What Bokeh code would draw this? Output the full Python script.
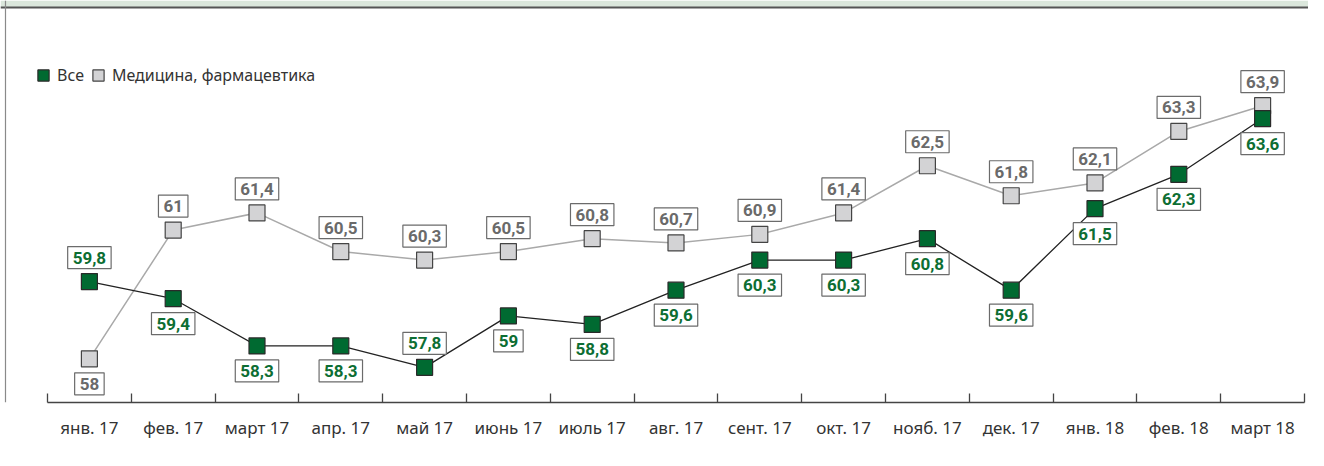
from bokeh.plotting import figure
from bokeh.models import (Range1d, FixedTicker, ColumnDataSource, Legend, LegendItem,
                          Span, BoxAnnotation)
from bokeh.embed import file_html
from bokeh.resources import INLINE
from bokeh.core.properties import value

# ---------------- data ----------------
months = ["янв. 17", "фев. 17", "март 17", "апр. 17", "май 17", "июнь 17", "июль 17",
          "авг. 17", "сент. 17", "окт. 17", "нояб. 17", "дек. 17", "янв. 18", "фев. 18",
          "март 18"]
all_vals = [59.8, 59.4, 58.3, 58.3, 57.8, 59.0, 58.8, 59.6, 60.3, 60.3, 60.8, 59.6,
            61.5, 62.3, 63.6]
med_vals = [58.0, 61.0, 61.4, 60.5, 60.3, 60.5, 60.8, 60.7, 60.9, 61.4, 62.5, 61.8,
            62.1, 63.3, 63.9]
series_names = ["Все", "Медицина, фармацевтика"]

# label placement (True = above the marker)
all_above = [True, False, False, False, True, False, False, False, False, False, False,
             False, False, False, False]
med_above = [False] + [True] * 14

# ---------------- layout ----------------
W, H = 1308, 450
FRAME_H = 402
PX_PER_CAT = 83.8
PX_PER_UNIT = 42.9
x_start = -0.5 - 47 / PX_PER_CAT
x_end = x_start + W / PX_PER_CAT
y_start = 56.981
y_end = y_start + FRAME_H / PX_PER_UNIT

GREEN = "#006a31"
GREEN_TXT = "#0d6e33"
GRAY_FILL = "#d3d3d5"
GRAY_TXT = "#6a6a6a"


def fmt(v):
    s = f"{v:.1f}".replace(".", ",")
    if s.endswith(",0"):
        s = s[:-2]
    return s


xs = list(range(len(months)))
src_all = ColumnDataSource(dict(
    x=xs, y=all_vals, label=[fmt(v) for v in all_vals],
    yoff=[-24 if a else 25 for a in all_above]))
src_med = ColumnDataSource(dict(
    x=xs, y=med_vals, label=[fmt(v) for v in med_vals],
    yoff=[-24 if a else 25 for a in med_above]))

p = figure(width=W, height=H, output_backend="svg", toolbar_location=None,
           x_range=Range1d(x_start, x_end), y_range=Range1d(y_start, y_end),
           min_border_left=0, min_border_right=0, min_border_top=0,
           min_border_bottom=H - FRAME_H)
p.outline_line_color = None
p.grid.visible = False
p.yaxis.visible = False

ax = p.xaxis[0]
ax.ticker = FixedTicker(ticks=xs, minor_ticks=[i - 0.5 for i in range(len(months) + 1)])
ax.major_label_overrides = {i: m for i, m in enumerate(months)}
ax.bounds = (-0.5, len(months) - 0.5)
ax.axis_line_color = "#444444"
ax.axis_line_width = 1.3
ax.major_tick_in = 0
ax.major_tick_out = 0
ax.minor_tick_in = 9
ax.minor_tick_out = 0
ax.minor_tick_line_color = "#444444"
ax.minor_tick_line_width = 1.3
ax.major_label_text_font = "Noto Sans"
ax.major_label_text_font_size = "17px"
ax.major_label_text_color = "#333333"
ax.major_label_standoff = 13

# decorations: top band and left border
band_bottom = y_end - 7 / PX_PER_UNIT
p.add_layout(BoxAnnotation(bottom=band_bottom, fill_color="#dbe7dc", fill_alpha=1,
                           line_color=None, level="underlay"))
p.add_layout(Span(location=band_bottom, dimension="width", line_color="#555555",
                  line_width=2))
p.add_layout(Span(location=x_start + 5 / PX_PER_CAT, dimension="height",
                  line_color="#8a8a8a", line_width=1.2))

# series
p.line("x", "y", source=src_med, line_color="#a9a9a9", line_width=1.5)
p.line("x", "y", source=src_all, line_color="#222222", line_width=1.3)
r_med = p.scatter("x", "y", source=src_med, marker="square", size=16,
                  fill_color=GRAY_FILL, line_color="#444444", line_width=1.2)
r_all = p.scatter("x", "y", source=src_all, marker="square", size=16,
                  fill_color=GREEN, line_color="#2a2a2a", line_width=1.2)

label_kw = dict(x="x", y="y", text="label", y_offset="yoff", text_align="center",
                text_baseline="middle", text_font=value("Roboto"), text_font_style="bold",
                text_font_size="17px", background_fill_color="white",
                border_line_color="#6b6b6b", border_line_width=1.2, padding=(5, 5))
p.text(source=src_med, text_color=GRAY_TXT, **label_kw)
p.text(source=src_all, text_color=GREEN_TXT, **label_kw)

legend = Legend(items=[LegendItem(label=series_names[0], renderers=[r_all]),
                       LegendItem(label=series_names[1], renderers=[r_med])],
                orientation="horizontal", location=(29, 313),
                glyph_width=28, glyph_height=28, label_standoff=-5, spacing=-5,
                padding=0, margin=0, border_line_color=None, background_fill_alpha=0,
                label_text_font="Noto Sans", label_text_font_size="16px",
                label_text_color="#333333")
p.add_layout(legend)

open("out.html", "w").write(file_html(p, INLINE))
